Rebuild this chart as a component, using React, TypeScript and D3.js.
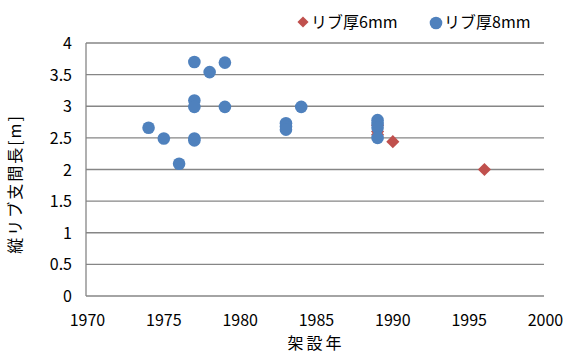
import React from "react";
import * as d3 from "d3";

const years6 = [1989, 1989, 1989, 1990, 1996];
const spans6 = [2.7, 2.6, 2.55, 2.44, 2.0];

const years8 = [1974, 1975, 1976, 1977, 1977, 1977, 1977, 1977, 1978, 1979, 1979, 1983, 1983, 1983, 1984, 1989, 1989, 1989, 1989];
const spans8 = [2.66, 2.49, 2.09, 3.7, 3.09, 2.99, 2.49, 2.46, 3.54, 3.69, 2.99, 2.73, 2.68, 2.63, 2.99, 2.78, 2.72, 2.66, 2.5];

const xTicks = [1970, 1975, 1980, 1985, 1990, 1995, 2000];
const yTicks = [0, 0.5, 1, 1.5, 2, 2.5, 3, 3.5, 4];

const legendLabels = ["リブ厚6mm", "リブ厚8mm"];
const xTitle = "架設年";
const yTitle = "縦リブ支間長[m]";

const W = 566;
const H = 354;
const left = 86;
const right = 544;
const top = 43;
const bottom = 296;
const FONT = "'Noto Sans CJK JP', 'Noto Sans', sans-serif";

export default function App() {
  const x = d3.scaleLinear().domain([1970, 2000]).range([87.5, 545.5]);
  const y = d3.scaleLinear().domain([0, 4]).range([bottom, top]);
  const diamond = d3.symbol().type(d3.symbolDiamond2).size(110)();
  const blue = "#4F81BD";
  const red = "#C0504D";
  return (
    <svg width={W} height={H} style={{ position: "absolute", left: 0, top: 0 }} fontFamily={FONT}>
      <rect width={W} height={H} fill="#fff" />
      {yTicks.map((t) => (
        <g key={t}>
          <line x1={left} x2={right} y1={y(t)} y2={y(t)} stroke="#868686" strokeWidth={1.3} />
          <text x={72} y={y(t) + 6} textAnchor="end" fontSize={16} fill="#000">{t}</text>
        </g>
      ))}
      <line x1={left} x2={left} y1={top} y2={bottom} stroke="#868686" strokeWidth={1.3} />
      {xTicks.map((t) => (
        <text key={t} x={Math.min(x(t), 547)} y={326} textAnchor="middle" fontSize={16} fill="#000">{t}</text>
      ))}
      {years6.map((yr, i) => (
        <path key={"r" + i} d={diamond} transform={`translate(${x(yr)},${y(spans6[i])})`} fill={red} />
      ))}
      {years8.map((yr, i) => (
        <circle key={"b" + i} cx={x(yr)} cy={y(spans8[i])} r={6.3} fill={blue} />
      ))}
      <path d={diamond} transform="translate(303,22) scale(0.85)" fill={red} />
      <text x={311} y={28} fontSize={16} fill="#000">{legendLabels[0]}</text>
      <circle cx={436} cy={23} r={6.3} fill={blue} />
      <text x={444} y={28} fontSize={16} fill="#000">{legendLabels[1]}</text>
      <text x={316} y={349} textAnchor="middle" fontSize={16} fill="#000" letterSpacing={3}>{xTitle}</text>
      <text transform={`translate(21,184) rotate(-90)`} textAnchor="middle" fontSize={16} fill="#000" letterSpacing={2}>{yTitle}</text>
    </svg>
  );
}
